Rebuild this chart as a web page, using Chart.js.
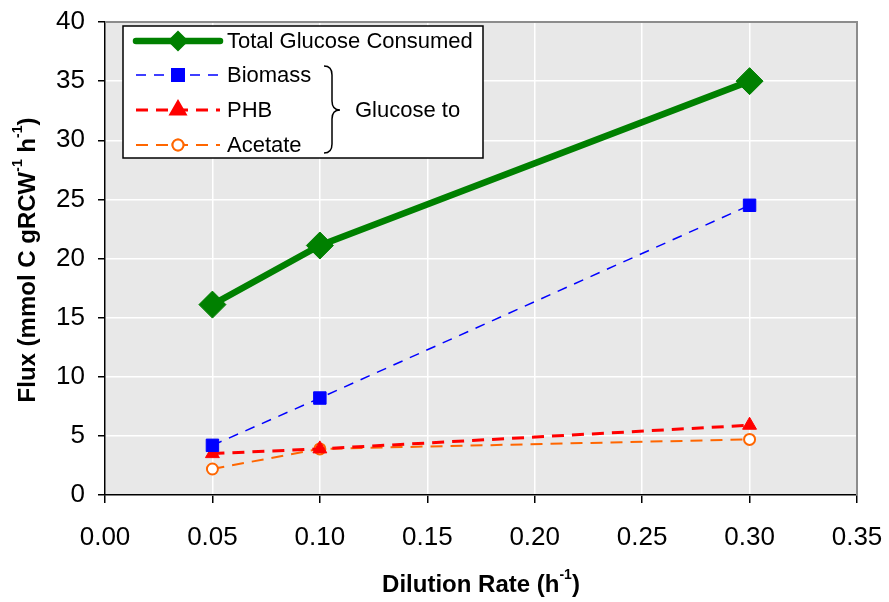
<!DOCTYPE html>
<html>
<head>
<meta charset="utf-8">
<script src="https://cdn.jsdelivr.net/npm/chart.js@4"></script>
<style>
  html, body { margin: 0; padding: 0; background: #fff; }
  #wrap { width: 889px; height: 602px; }
</style>
</head>
<body>
<div id="wrap"><canvas id="fluxChart"></canvas></div>
<script>
const dilutionRates = [0.05, 0.10, 0.30];
const totalGlucose = [16.1, 21.1, 35.0];
const biomass = [4.2, 8.2, 24.5];
const phb = [3.5, 3.9, 5.9];
const acetate = [2.2, 3.9, 4.7];
const seriesNames = ['Total Glucose Consumed', 'Biomass', 'PHB', 'Acetate'];
const groupLabel = 'Glucose to';

const FONT = '"Liberation Sans", Arial, sans-serif';

const toPoints = ys => dilutionRates.map((x, i) => ({x, y: ys[i]}));

// grey plot background + frame
const plotBackground = {
    id: 'plotBackground',
    beforeDraw(chart) {
        const {ctx, chartArea: a} = chart;
        ctx.save();
        ctx.fillStyle = '#e8e8e8';
        ctx.fillRect(a.left, a.top, a.right - a.left, a.bottom - a.top);
        ctx.restore();
    },
    afterDatasetsDraw(chart) {
        const {ctx, chartArea: a} = chart;
        ctx.save();
        ctx.strokeStyle = '#8c8c8c';
        ctx.lineWidth = 2;
        ctx.beginPath();
        ctx.moveTo(a.left, a.top);
        ctx.lineTo(a.right, a.top);
        ctx.lineTo(a.right, a.bottom);
        ctx.stroke();
        ctx.restore();
    }
};

// draws text with a superscript part: parts = [[text, sup], ...]
function drawRich(ctx, parts, x, y, size) {
    const supSize = Math.round(size * 0.6);
    let total = 0;
    parts.forEach(([t, sup]) => {
        ctx.font = 'bold ' + (sup ? supSize : size) + 'px ' + FONT;
        total += ctx.measureText(t).width;
    });
    let cx = x - total / 2;
    parts.forEach(([t, sup]) => {
        ctx.font = 'bold ' + (sup ? supSize : size) + 'px ' + FONT;
        ctx.fillText(t, cx, sup ? y - size * 0.4 : y);
        cx += ctx.measureText(t).width;
    });
}

const axisTitles = {
    id: 'axisTitles',
    afterDraw(chart) {
        const {ctx} = chart;
        ctx.save();
        ctx.fillStyle = '#000';
        ctx.textBaseline = 'middle';
        ctx.textAlign = 'left';
        drawRich(ctx, [['Dilution Rate (h', false], ['-1', true], [')', false]], 481, 585, 24);
        ctx.translate(28, 260);
        ctx.rotate(-Math.PI / 2);
        drawRich(ctx, [['Flux (mmol C gRCW', false], ['-1', true], [' h', false], ['-1', true], [')', false]], 0, 0, 24);
        ctx.restore();
    }
};

const boxLegend = {
    id: 'boxLegend',
    afterDraw(chart) {
        const {ctx} = chart;
        const bx = 123, by = 26, bw = 360, bh = 132;
        const rows = [41, 75, 110, 145];
        ctx.save();
        ctx.fillStyle = '#fff';
        ctx.fillRect(bx, by, bw, bh);
        ctx.strokeStyle = '#000';
        ctx.lineWidth = 1.5;
        ctx.strokeRect(bx, by, bw, bh);
        chart.data.datasets.forEach((ds, i) => {
            const y = rows[i];
            ctx.strokeStyle = ds.borderColor;
            ctx.lineWidth = ds.borderWidth;
            ctx.lineCap = ds.borderDash ? 'butt' : 'round';
            ctx.setLineDash(ds.borderDash || []);
            ctx.beginPath();
            ctx.moveTo(136, y);
            ctx.lineTo(220, y);
            ctx.stroke();
            ctx.setLineDash([]);
            Chart.helpers.drawPoint(ctx, {
                pointStyle: ds.pointStyle,
                radius: ds.legendRadius,
                borderWidth: ds.pointBorderWidth || 1,
                rotation: 0
            }, 178, y);
            ctx.fillStyle = ds.pointBackgroundColor;
            ctx.strokeStyle = ds.pointBorderColor;
            ctx.lineWidth = ds.pointBorderWidth || 1;
            ctx.fill();
            ctx.stroke();
            ctx.fillStyle = '#000';
            ctx.font = '22px ' + FONT;
            ctx.textBaseline = 'middle';
            ctx.fillText(ds.label, 227, y + 1);
        });
        // brace
        const x0 = 324, top = 66, bot = 153, mid = 110;
        ctx.strokeStyle = '#000';
        ctx.lineWidth = 1.5;
        ctx.beginPath();
        ctx.moveTo(x0, top);
        ctx.quadraticCurveTo(x0 + 8, top, x0 + 8, top + 9);
        ctx.lineTo(x0 + 8, mid - 9);
        ctx.quadraticCurveTo(x0 + 8, mid, x0 + 16, mid);
        ctx.quadraticCurveTo(x0 + 8, mid, x0 + 8, mid + 9);
        ctx.lineTo(x0 + 8, bot - 9);
        ctx.quadraticCurveTo(x0 + 8, bot, x0, bot);
        ctx.stroke();
        ctx.fillStyle = '#000';
        ctx.font = '22px ' + FONT;
        ctx.fillText(groupLabel, 355, mid + 1);
        ctx.restore();
    }
};

new Chart(document.getElementById('fluxChart'), {
    type: 'line',
    data: {
        datasets: [{
            label: seriesNames[0],
            data: toPoints(totalGlucose),
            borderColor: '#008000',
            backgroundColor: '#008000',
            borderWidth: 6.5,
            pointStyle: 'rectRot',
            pointRadius: 13.5,
            legendRadius: 6,
            pointBackgroundColor: '#008000',
            pointBorderColor: '#008000',
            pointBorderWidth: 1
        }, {
            label: seriesNames[1],
            data: toPoints(biomass),
            borderColor: '#0000ff',
            borderWidth: 1.5,
            borderDash: [10, 8],
            pointStyle: 'rect',
            pointRadius: 8.8,
            legendRadius: 8.8,
            pointBackgroundColor: '#0000ff',
            pointBorderColor: '#0000ff',
            pointBorderWidth: 1
        }, {
            label: seriesNames[2],
            data: toPoints(phb),
            borderColor: '#ff0000',
            borderWidth: 3,
            borderDash: [12, 8],
            pointStyle: 'triangle',
            pointRadius: 8,
            legendRadius: 8,
            pointBackgroundColor: '#ff0000',
            pointBorderColor: '#ff0000',
            pointBorderWidth: 1
        }, {
            label: seriesNames[3],
            data: toPoints(acetate),
            borderColor: '#ff6600',
            borderWidth: 2,
            borderDash: [12, 8],
            pointStyle: 'circle',
            pointRadius: 5.5,
            legendRadius: 5.5,
            pointBackgroundColor: '#ffffff',
            pointBorderColor: '#ff6600',
            pointBorderWidth: 2
        }]
    },
    options: {
        responsive: true,
        maintainAspectRatio: false,
        animation: false,
        layout: {padding: {top: 22, right: 32, left: 0, bottom: 0}},
        plugins: {legend: {display: false}, tooltip: {enabled: false}},
        scales: {
            x: {
                type: 'linear',
                min: 0, max: 0.35,
                afterFit: s => {
                    s.height = 107;
                    s.paddingLeft = 0;
                    s.paddingRight = 0;
                },
                ticks: {
                    stepSize: 0.05,
                    callback: v => v.toFixed(2),
                    color: '#000',
                    font: {family: FONT, size: 26},
                    padding: 19,
                    maxRotation: 0
                },
                grid: {color: '#ffffff', lineWidth: 1.5, tickColor: '#000', tickLength: 8},
                border: {color: '#000', width: 1.5}
            },
            y: {
                min: 0, max: 40,
                afterFit: s => {
                    s.width = 105;
                    s.paddingTop = 0;
                    s.paddingBottom = 0;
                },
                ticks: {
                    stepSize: 5,
                    color: '#000',
                    font: {family: FONT, size: 26},
                    padding: 13
                },
                grid: {color: '#ffffff', lineWidth: 1.5, tickColor: '#000', tickLength: 7},
                border: {color: '#000', width: 1.5}
            }
        }
    },
    plugins: [plotBackground, axisTitles, boxLegend]
});
</script>
</body>
</html>
